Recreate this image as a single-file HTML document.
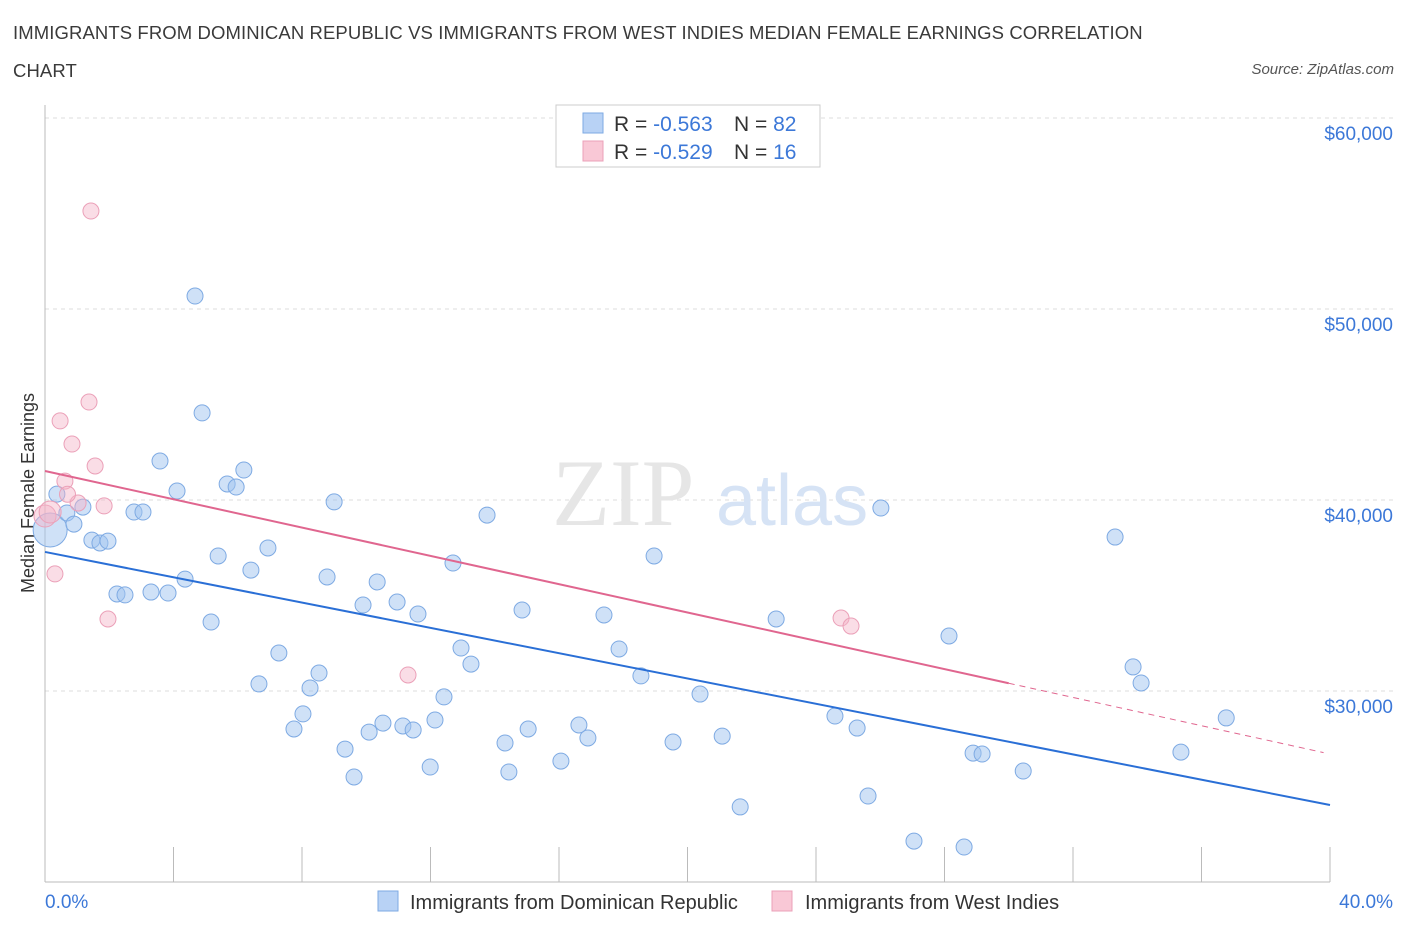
<!DOCTYPE html>
<html><head><meta charset="utf-8">
<style>
body{margin:0;background:#fff;font-family:"Liberation Sans",sans-serif;}
#wrap{position:relative;width:1406px;height:930px;overflow:hidden;}
.title{position:absolute;left:13px;top:14px;font-size:18.5px;color:#3a3a3a;line-height:38px;letter-spacing:0.1px}
.src{position:absolute;right:12px;top:61px;font-size:15px;color:#555;font-style:italic}
</style></head><body>
<div id="wrap">
<div class="title">IMMIGRANTS FROM DOMINICAN REPUBLIC VS IMMIGRANTS FROM WEST INDIES MEDIAN FEMALE EARNINGS CORRELATION<br>CHART</div>
<div class="src">Source: ZipAtlas.com</div>
<svg id="chart" width="1406" height="930" style="position:absolute;left:0;top:0"></svg>
</div>
<script>
const blueX=[0.16,0.37,0.68,0.90,1.18,1.46,1.71,1.96,2.24,2.49,2.77,3.05,3.30,3.58,3.83,4.11,4.36,4.67,4.89,5.17,5.39,5.67,5.95,6.19,6.41,6.66,6.94,7.28,7.75,8.03,8.25,8.53,8.78,9.00,9.34,9.62,9.90,10.09,10.34,10.52,10.96,11.14,11.46,11.61,11.99,12.14,12.42,12.70,12.95,13.26,13.76,14.32,14.44,14.85,15.04,16.06,16.62,16.90,17.40,17.87,18.55,18.96,19.55,20.39,21.08,21.64,22.76,24.59,25.28,25.62,26.02,27.05,28.14,28.61,28.89,29.17,30.45,33.31,33.87,34.12,35.36,36.77];
const blueY=[38430,40310,39320,38740,39630,37900,37750,37850,35080,35030,39370,39370,35180,42040,35130,40470,35860,50680,44560,33610,37070,40840,40680,41570,36330,30370,37490,31990,28010,28800,30160,30940,35970,39900,26960,25500,34500,27850,35710,28320,34660,28170,27960,34030,26020,28480,29690,36700,32250,31410,39210,27280,25760,34240,28010,26330,28220,27540,33980,32200,30790,37070,27330,29840,27640,23930,33770,28690,28060,24500,39580,22140,32880,21830,26750,26700,25810,38060,31260,30420,26800,28590];
const pinkX=[0.0,0.16,0.31,0.47,0.62,0.84,1.03,1.37,1.43,1.56,1.84,1.96,11.30,24.78,25.09,0.70];
const pinkY=[39160,39370,36130,44140,40990,42930,39840,45130,55130,41780,39690,33770,30840,33820,33400,40300];
const yTicks=[30000,40000,50000,60000];
const yTickLabels=["$30,000","$40,000","$50,000","$60,000"];
const xTickLabels=["0.0%","40.0%"];
const blueLine=[37280,24030];
const pinkLine=[41520,26700];
const pinkSolidEnd=30.0;

const NS="http://www.w3.org/2000/svg";
const svg=document.getElementById('chart');
const X=p=>45+p/40*1285;
const Y=v=>882-(v-20000)/40000*764;
function el(t,a,parent){const e=document.createElementNS(NS,t);for(const k in a)e.setAttribute(k,a[k]);(parent||svg).appendChild(e);return e;}

yTicks.forEach((v,i)=>{
 const g=el('line',{x1:45,x2:1395,y1:Y(v),y2:Y(v),stroke:'#ddd','stroke-dasharray':'4,4'});
 
 
 const t=el('text',{x:1393,y:Y(v)+22,'text-anchor':'end','font-size':19,fill:'#3c78d8'});
 t.textContent=yTickLabels[i];
 
 
});
const ax=el('line',{x1:45,x2:1330,y1:882,y2:882,stroke:'#bbb'});


const ay=el('line',{x1:45,x2:45,y1:105,y2:882,stroke:'#bbb'});


for(let i=0;i<=10;i++){const tk=el('line',{x1:X(i*4),x2:X(i*4),y1:847,y2:882,stroke:'#bbb'});
 
 }
[[0,'start',45],[1,'end',1393]].forEach(([i,a,x])=>{const t=el('text',{x:x,y:908,'text-anchor':a,'font-size':19,fill:'#3c78d8'});t.textContent=xTickLabels[i];
 
 });
const yt=el('text',{x:34,y:493,'text-anchor':'middle','font-size':18,fill:'#333',transform:'rotate(-90 34 493)'});
yt.textContent='Median Female Earnings';


const wm=el('text',{x:552,y:525,'font-size':95,fill:'#e6e6e6','font-family':'Liberation Serif'});
wm.textContent='ZIP';


const wm2=el('text',{x:716,y:525,'font-size':72,fill:'#d6e3f5'});
wm2.textContent='atlas';



blueX.forEach((x,i)=>{const r=i===0?17:8;const c=el('circle',{cx:X(x),cy:Y(blueY[i]),r:r,fill:'rgba(160,195,240,0.5)',stroke:'#7eaae3','stroke-width':1});
 
 });
pinkX.forEach((x,i)=>{const r=i<2?11:8;const c=el('circle',{cx:X(x),cy:Y(pinkY[i]),r:r,fill:'rgba(245,180,200,0.45)',stroke:'#eba0b8','stroke-width':1});
 
 });

const bl=el('line',{x1:X(0),y1:Y(blueLine[0]),x2:X(40),y2:Y(blueLine[1]),stroke:'#2a6fd6','stroke-width':2});


const pAt=p=>pinkLine[0]+(pinkLine[1]-pinkLine[0])*p/40;
const pl=el('line',{x1:X(0),y1:Y(pinkLine[0]),x2:X(pinkSolidEnd),y2:Y(pAt(pinkSolidEnd)),stroke:'#e0668f','stroke-width':2});


const pd=el('line',{x1:X(pinkSolidEnd),y1:Y(pAt(pinkSolidEnd)),x2:X(39.8),y2:Y(pAt(39.8)),stroke:'#e0668f','stroke-width':1,'stroke-dasharray':'6,5'});



const lg=el('g',{});


el('rect',{x:556,y:105,width:264,height:62,fill:'#fff',stroke:'#ccc'},lg);
el('rect',{x:583,y:113,width:20,height:20,fill:'#b8d2f5',stroke:'#7eaae3'},lg);
el('rect',{x:583,y:141,width:20,height:20,fill:'#f9c8d6',stroke:'#eba0b8'},lg);
[['-0.563','82',131],['-0.529','16',159]].forEach(([r,n,y])=>{
 const t=el('text',{x:614,y:y,'font-size':21,fill:'#333'},lg);
 t.innerHTML='R = <tspan fill="#3c78d8">'+r+'</tspan>';
 const t2=el('text',{x:734,y:y,'font-size':21,fill:'#333'},lg);
 t2.innerHTML='N = <tspan fill="#3c78d8">'+(y>140?' ':'')+n+'</tspan>';
});
const bl2=el('g',{});


el('rect',{x:378,y:891,width:20,height:20,fill:'#b8d2f5',stroke:'#7eaae3'},bl2);
const l1=el('text',{x:410,y:909,'font-size':20,fill:'#333'},bl2);l1.textContent='Immigrants from Dominican Republic';
el('rect',{x:772,y:891,width:20,height:20,fill:'#f9c8d6',stroke:'#eba0b8'},bl2);
const l2=el('text',{x:805,y:909,'font-size':20,fill:'#333'},bl2);l2.textContent='Immigrants from West Indies';
</script>
</body></html>
